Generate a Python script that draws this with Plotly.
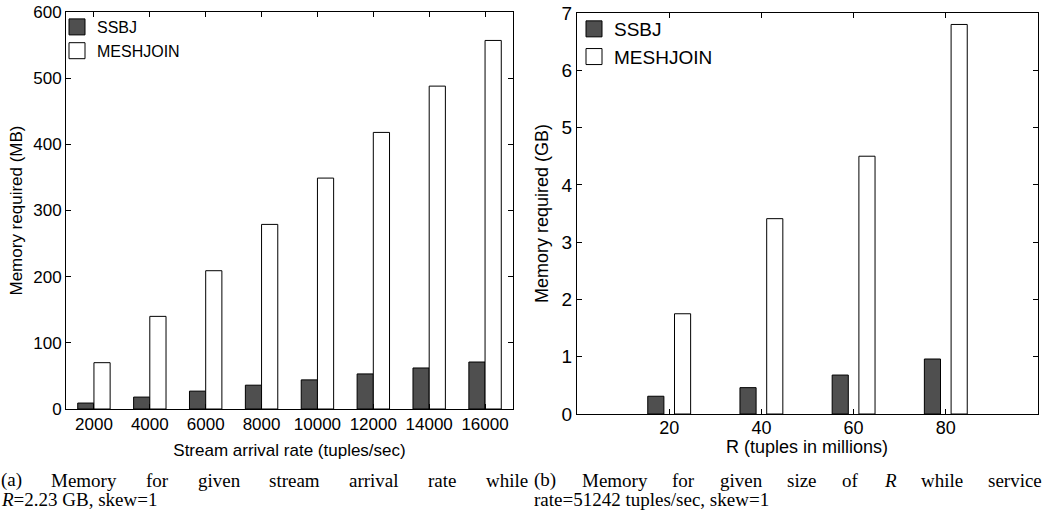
import plotly.graph_objects as go

# ---------------- data ----------------
rates = [2000, 4000, 6000, 8000, 10000, 12000, 14000, 16000]
rate_labels = [str(r) for r in rates]
ssbj_mb = [9, 18, 27, 36, 44, 53, 62, 71]
meshjoin_mb = [70, 140, 209, 279, 349, 418, 488, 557]

r_sizes = [20, 40, 60, 80]
ssbj_gb = [0.31, 0.46, 0.68, 0.96]
meshjoin_gb = [1.75, 3.41, 4.50, 6.80]

series_names = ["SSBJ", "MESHJOIN"]
caption_a_line1 = "(a) Memory for given stream arrival rate while"
caption_a_line2 = "<i>R</i>=2.23 GB, skew=1"
caption_b_line1 = "(b) Memory for given size of <i>R</i> while service"
caption_b_line2 = "rate=51242 tuples/sec, skew=1"

# ---------------- style / layout helpers ----------------
W, H = 1053, 517
DARK = "#4f4f4f"
SANS = "Liberation Sans, Arial, Helvetica, sans-serif"
SERIF = "Liberation Serif, Times New Roman, serif"

def px_x(p):
    return p / W

def px_y(p):
    return (H - p) / H

fig = go.Figure()

# left panel bars
fig.add_trace(go.Bar(x=rates, y=ssbj_mb, name=series_names[0], width=580, offset=-580,
                     marker=dict(color=DARK, line=dict(color="black", width=1)),
                     xaxis="x", yaxis="y", showlegend=False))
fig.add_trace(go.Bar(x=rates, y=meshjoin_mb, name=series_names[1], width=580, offset=0,
                     marker=dict(color="white", line=dict(color="black", width=1)),
                     xaxis="x", yaxis="y", showlegend=False))
# right panel bars
fig.add_trace(go.Bar(x=r_sizes, y=ssbj_gb, name=series_names[0], width=3.5, offset=-4.65,
                     marker=dict(color=DARK, line=dict(color="black", width=1)),
                     xaxis="x2", yaxis="y2", showlegend=False))
fig.add_trace(go.Bar(x=r_sizes, y=meshjoin_gb, name=series_names[1], width=3.5, offset=1.15,
                     marker=dict(color="white", line=dict(color="black", width=1)),
                     xaxis="x2", yaxis="y2", showlegend=False))

# legend entries (square swatches)
for leg, xa, ya in (("legend", "x", "y"), ("legend2", "x2", "y2")):
    for nm, col in zip(series_names, [DARK, "white"]):
        fig.add_trace(go.Scatter(x=[None], y=[None], mode="markers", name=nm,
                                 marker=dict(symbol="square", size=16, color=col,
                                             line=dict(color="black", width=1)),
                                 xaxis=xa, yaxis=ya, legend=leg, showlegend=True))

axis_common = dict(showline=True, linecolor="black", linewidth=1, mirror="ticks",
                   ticks="inside", ticklen=5, tickcolor="black", showgrid=False,
                   zeroline=False, automargin=False)

fig.update_layout(
    width=W, height=H,
    margin=dict(l=0, r=0, t=0, b=0),
    paper_bgcolor="white", plot_bgcolor="white",
    barmode="overlay",
    font=dict(family=SANS, color="black"),
    xaxis=dict(domain=[px_x(66), px_x(513)], range=[1000, 17000],
               tickvals=rates, ticktext=rate_labels, tickfont=dict(size=17),
               title=dict(text="Stream arrival rate (tuples/sec)", font=dict(size=17), standoff=10),
               anchor="y", **axis_common),
    yaxis=dict(domain=[px_y(409), px_y(12)], range=[0, 600], dtick=100,
               tickfont=dict(size=17),
               title=dict(text="Memory required (MB)", font=dict(size=17), standoff=6),
               anchor="x", **axis_common),
    xaxis2=dict(domain=[px_x(577), px_x(1038)], range=[0, 100],
                tickvals=r_sizes, tickfont=dict(size=18), ticklabelstandoff=-3,
                anchor="y2", **axis_common),
    yaxis2=dict(domain=[px_y(414), px_y(13)], range=[0, 7], dtick=1,
                tickfont=dict(size=19),
                title=dict(text="Memory required (GB)", font=dict(size=18), standoff=8),
                anchor="x2", **axis_common),
    legend=dict(x=px_x(57), y=px_y(10), xanchor="left", yanchor="top",
                bgcolor="rgba(0,0,0,0)", font=dict(size=16, family=SANS),
                tracegroupgap=0, itemclick=False),
    legend2=dict(x=px_x(574), y=px_y(10), xanchor="left", yanchor="top",
                 bgcolor="rgba(0,0,0,0)", font=dict(size=19, family=SANS),
                 tracegroupgap=0, itemclick=False),
)

# right x-axis title (placed as text to match the reference's tight spacing)
fig.add_annotation(x=px_x(807), y=px_y(447), xref="paper", yref="paper",
                   text="R (tuples in millions)", showarrow=False,
                   xanchor="center", yanchor="middle", borderpad=0,
                   font=dict(family=SANS, size=18, color="black"))

# ---------------- captions (first lines fully justified) ----------------
CAP_SIZE = 19
TIMES = {"(": 333, ")": 333, "a": 444, "b": 500, "c": 444, "d": 500, "e": 444, "f": 333,
         "g": 500, "h": 500, "i": 278, "k": 500, "l": 278, "m": 778, "n": 500, "o": 500,
         "p": 500, "r": 333, "s": 389, "t": 278, "u": 500, "v": 500, "w": 722, "y": 500,
         "z": 444, "M": 889, "R": 611}

def word_width(w):
    w = w.replace("<i>", "").replace("</i>", "")
    return sum(TIMES.get(c, 500) for c in w) / 1000 * CAP_SIZE

def cap(text, xpix, ypix):
    fig.add_annotation(x=px_x(xpix), y=px_y(ypix), xref="paper", yref="paper",
                       text=text, showarrow=False, xanchor="left", yanchor="middle",
                       borderpad=0, font=dict(family=SERIF, size=CAP_SIZE, color="black"))

def justified(line, x0, x1, ypix):
    words = line.split(" ")
    widths = [word_width(w) for w in words]
    gap = (x1 - x0 - sum(widths)) / (len(words) - 1)
    x = x0
    for w, wd in zip(words, widths):
        cap(w, x, ypix)
        x += wd + gap

justified(caption_a_line1, 0, 527, 480)
justified(caption_b_line1, 533, 1041, 480)
cap(caption_a_line2, 0, 499)
cap(caption_b_line2, 533, 499)

fig.write_html("out.html")
